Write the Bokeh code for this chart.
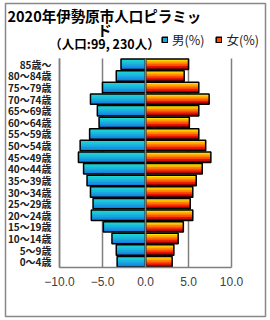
from bokeh.plotting import figure
from bokeh.models import FixedTicker, Label, Legend, LegendItem
from bokeh.embed import file_html
from bokeh.resources import INLINE

# ---------------- data ----------------
ages = ["0～4歳", "5～9歳", "10～14歳", "15～19歳", "20～24歳", "25～29歳",
        "30～34歳", "35～39歳", "40～44歳", "45～49歳", "50～54歳", "55～59歳",
        "60～64歳", "65～69歳", "70～74歳", "75～79歳", "80～84歳", "85歳～"]
male = [-3.3, -3.4, -3.9, -4.9, -6.3, -6.1, -6.4, -6.8, -7.2, -7.8, -7.6,
        -6.5, -5.4, -5.6, -6.4, -5.0, -3.4, -2.85]
female = [3.1, 3.3, 3.8, 4.4, 5.5, 5.2, 5.5, 5.9, 6.6, 7.6, 7.0, 6.2, 5.1,
          6.2, 7.4, 6.2, 4.5, 5.0]
x_ticks = [-10, -5, 0, 5, 10]
x_tick_labels = ["−10.0", "−5.0", "0.0", "5.0", "10.0"]
title_line1 = "2020年伊勢原市人口ピラミッ"
title_line2 = "ド"
subtitle = "（人口:99, 230人）"
legend_labels = ["男(%)", "女(%)"]

# ---------------- layout (pixels) ----------------
W, H = 270, 320
BL, BR, BT, BB = 5, 265, 3, 316          # outer chart border
FL, FR, FT, FB = 59, 231, 58, 267        # plot area
XMIN, XMAX = x_ticks[0], x_ticks[-1]
YMIN, YMAX = -0.5, len(ages) - 0.5
PX = (FR - FL) / (XMAX - XMIN)
PY = (FB - FT) / (YMAX - YMIN)
x_start = XMIN - (FL - BL) / PX
x_end = XMAX + (BR - FR) / PX
y_start = YMIN - (BB - FB) / PY
y_end = YMAX + (FT - BT) / PY


def dx(cx):
    return x_start + (cx - BL) / PX


def dy(cy):
    return y_end - (cy - BT) / PY


JP = "Noto Sans CJK JP"
GRID = "#7f7f7f"
male_cols = ["#1ed4d4", "#1cc8d8", "#1ab8dc", "#18a6e0", "#1692e2", "#1480dc"]
female_cols = ["#ffe000", "#ffb400", "#ff8000", "#ff4800", "#e01400", "#a00000"]
BAR_H = 0.9

p = figure(width=W, height=H, x_range=(x_start, x_end),
           y_range=(y_start, y_end),
           output_backend="svg", toolbar_location=None,
           min_border_left=BL, min_border_right=W - BR,
           min_border_top=BT, min_border_bottom=H - BB)
p.outline_line_color = "#888888"
p.outline_line_width = 1.5
p.background_fill_color = "white"
p.border_fill_color = "white"
p.xgrid.grid_line_color = None
p.ygrid.grid_line_color = None

idx = list(range(len(ages)))

# axes fixed inside the frame
p.xaxis.fixed_location = YMIN
p.xaxis.bounds = (XMIN, XMAX)
p.xaxis.ticker = FixedTicker(ticks=x_ticks)
p.xaxis.major_label_overrides = dict(zip(x_ticks, x_tick_labels))
p.xaxis.major_label_text_font = "Liberation Sans"
p.xaxis.major_label_text_font_size = "12px"
p.xaxis.major_label_text_color = "#404040"
p.xaxis.major_label_standoff = 9

p.yaxis.fixed_location = XMIN
p.yaxis.bounds = (YMIN, YMAX)
p.yaxis.ticker = FixedTicker(ticks=idx)
p.yaxis.major_label_overrides = dict(zip(idx, ages))
p.yaxis.major_label_text_font = JP
p.yaxis.major_label_text_font_style = "bold"
p.yaxis.major_label_text_font_size = "10px"
p.yaxis.major_label_text_color = "#202020"
p.yaxis.major_label_standoff = 8
for ax in (p.xaxis, p.yaxis):
    ax.axis_line_color = GRID
    ax.axis_line_width = 1.5
    ax.major_tick_line_color = None
    ax.minor_tick_line_color = None
    ax.major_tick_in = 0
    ax.major_tick_out = 0

# vertical gridlines limited to the plot area
p.segment(x0=x_ticks, x1=x_ticks, y0=YMIN, y1=YMAX, line_color=GRID,
          line_width=1.5)

# gradient bars as nested strips
N = len(male_cols)
m_strips, f_strips = [], []
for k in range(N):
    tops = [i + BAR_H / 2 - k * BAR_H / N for i in idx]
    bots = [i - BAR_H / 2 for i in idx]
    ys = [(t + b) / 2 for t, b in zip(tops, bots)]
    hs = [t - b for t, b in zip(tops, bots)]
    m_strips.append(p.hbar(y=ys, height=hs, left=male, right=0,
                           fill_color=male_cols[k], line_color=None))
    f_strips.append(p.hbar(y=ys, height=hs, left=0, right=female,
                           fill_color=female_cols[k], line_color=None))

m_out = p.hbar(y=idx, height=BAR_H, left=male, right=0, fill_color=None,
               line_color="black", line_width=1.5)
f_out = p.hbar(y=idx, height=BAR_H, left=0, right=female, fill_color=None,
               line_color="black", line_width=1.5)

p.segment(x0=[0], x1=[0], y0=YMIN, y1=YMAX, line_color=GRID, line_width=1.5)

# legend (glyph = mid strip colour + black outline)
leg = Legend(items=[LegendItem(label=legend_labels[0],
                               renderers=[m_strips[3], m_out]),
                    LegendItem(label=legend_labels[1],
                               renderers=[f_strips[3], f_out])],
             orientation="horizontal", location=(161 - BL, BB - 49),
             border_line_color=None, background_fill_alpha=0,
             padding=0, margin=0, spacing=11, glyph_width=7, glyph_height=7,
             label_text_font=JP, label_text_font_size="12.5px",
             label_text_color="#202020",
             label_standoff=4, label_height=14)
p.add_layout(leg)

for txt, cx, cy, size, align in [(title_line1, 7, 15, "14.5px", "left"),
                                 (title_line2, 104, 29, "14.5px", "center"),
                                 (subtitle, 104, 43, "12.5px", "center")]:
    p.add_layout(Label(x=dx(cx), y=dy(cy), text=txt, text_font=JP,
                       text_font_style="bold", text_font_size=size,
                       text_align=align, text_baseline="middle",
                       text_color="black"))

open("out.html", "w").write(file_html(p, INLINE))
